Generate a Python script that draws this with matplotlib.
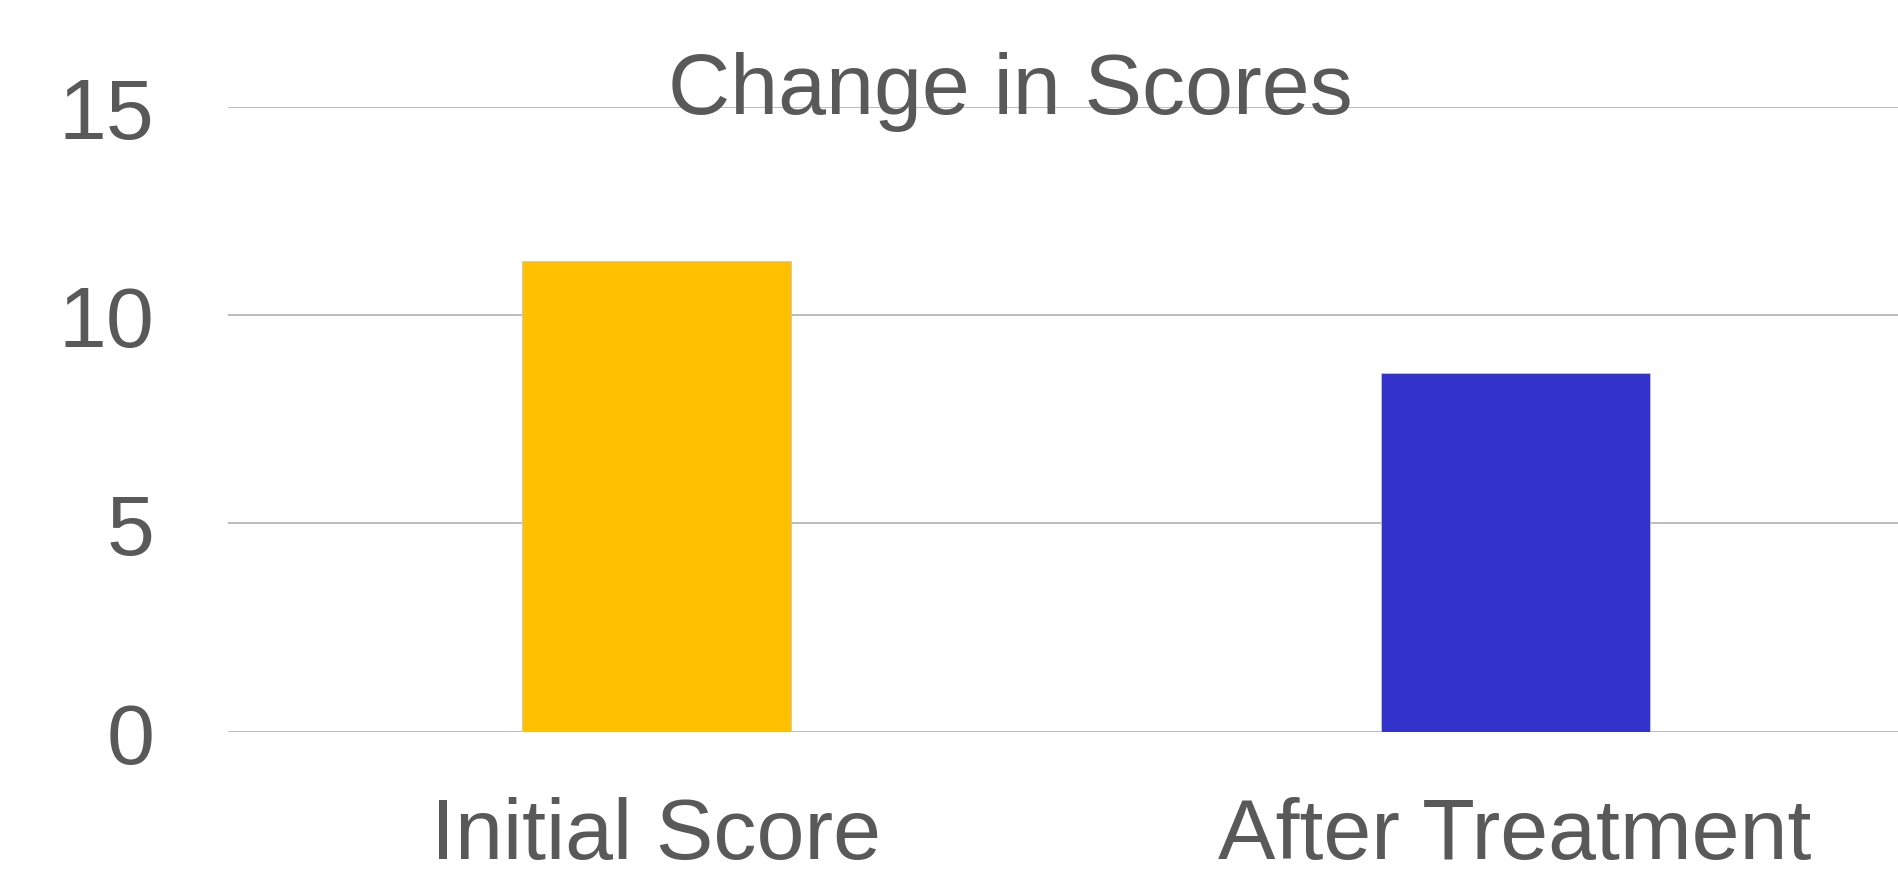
import matplotlib.pyplot as plt
import numpy as np

categories = ['Initial Score', 'After Treatment']
scores = [11.3, 8.6]
bar_colors = ['#FFC000', '#3333CC']
y_ticks = [0, 5, 10, 15]

plt.rcParams['font.family'] = ['Liberation Sans', 'DejaVu Sans']
text_color = '#595959'

fig = plt.figure(figsize=(18.99, 8.79), dpi=100)
# axes placed so that y=0..15 spans the gridlines of the reference
ax = fig.add_axes([228 / 1899, 1 - 732.7 / 879, 1 - 228 / 1899, (732.7 - 107.8) / 879])

x = np.arange(len(categories))
ax.bar(x, scores, width=0.313, color=bar_colors, edgecolor='#c8c8c8', linewidth=0.6, zorder=3)

ax.set_xlim(-0.499, 1.447)
ax.set_ylim(0, 15)
ax.set_yticks(y_ticks)
ax.set_xticks(x)
ax.set_xticklabels(categories)
ax.grid(axis='y', color='#b7b7b7', linewidth=1.3, zorder=0)
ax.tick_params(axis='y', length=0, pad=53, labelsize=62, labelcolor=text_color)
ax.tick_params(axis='x', length=0, pad=46, labelsize=62, labelcolor=text_color)
for s in ax.spines.values():
    s.set_visible(False)
ax.set_axisbelow(True)

fig.text(1010 / 1899, 1 - 113.5 / 879, 'Change in Scores', ha='center', va='baseline',
         fontsize=62, color=text_color)

fig.savefig('out.png', dpi=100)
